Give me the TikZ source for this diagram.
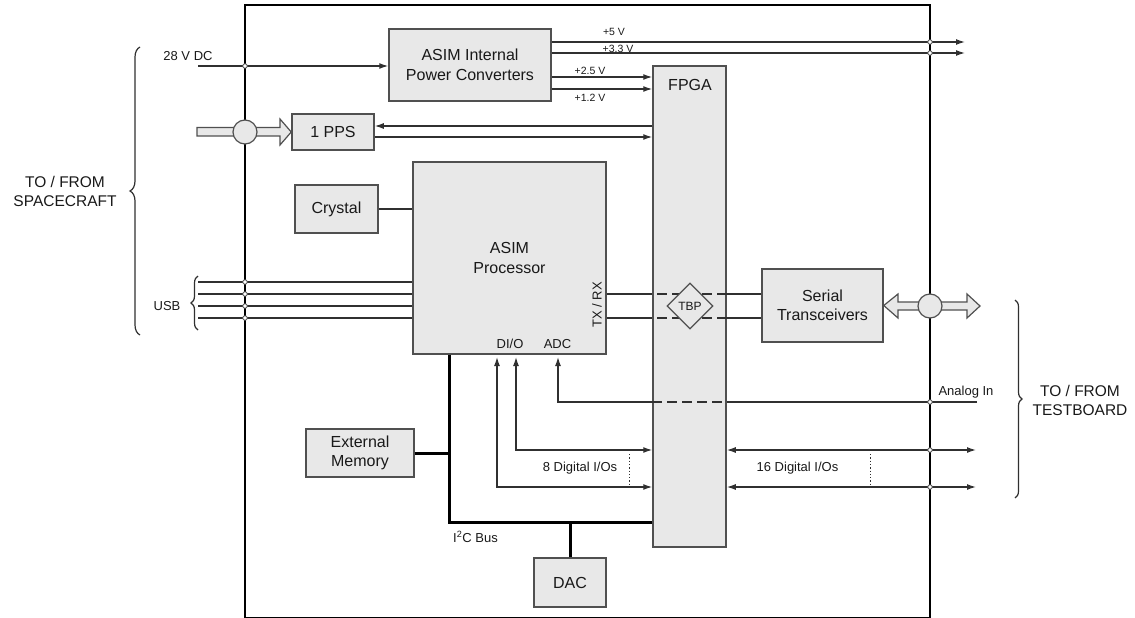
\documentclass[tikz,border=0pt]{standalone}
\usepackage{fontspec}
\setmainfont{Liberation Sans}
\usetikzlibrary{arrows.meta,shapes.geometric,decorations.pathreplacing}
\definecolor{boxfill}{HTML}{E8E8E8}
\definecolor{boxline}{HTML}{505050}
\definecolor{wirec}{HTML}{303030}
\tikzset{
  txt/.style={font=\fontsize{16}{19.5}\selectfont, align=center, inner sep=0pt, text=black!90},
  blk/.style={txt, draw=boxline, fill=boxfill, line width=1.5pt},
  sig/.style={draw=wirec, line width=1.3pt},
  bus/.style={draw=black, line width=3pt},
  jdot/.style={circle, draw=boxline, fill=white, line width=0.8pt, inner sep=0pt, minimum size=4.5pt},
  lbl/.style={font=\fontsize{13}{15}\selectfont, inner sep=0pt, text=black!90},
  vlbl/.style={font=\fontsize{10.5}{12}\selectfont, inner sep=0pt, text=black!90},
  fat/.style={draw=boxline, fill=boxfill, line width=1.2pt, line join=miter},
  brc/.style={draw=wirec, line width=1.2pt, decorate, decoration={brace, amplitude=#1}},
  fpgadash/.style={sig, dash pattern=on 10pt off 5pt, dash phase=10pt}
}
\begin{document}
\begin{tikzpicture}[x=1pt, y=-1pt, >={Latex[length=9pt,width=6pt]}]
\useasboundingbox (0,0) rectangle (1135,618);
\draw[line width=1.8pt] (245,5) rectangle (930,618);

\node[blk, minimum width=162pt, minimum height=72pt] (pwr) at (470,65) {ASIM Internal\\Power Converters};
\node[blk, minimum width=73pt, minimum height=481pt] (fpga) at (689.5,306.5) {};
\node[txt] (fpgalbl) at (690,85) {FPGA};
\node[blk, minimum width=82pt, minimum height=36pt] (pps) at (333,132) {1 PPS};
\node[blk, minimum width=83pt, minimum height=48pt] (xtal) at (336.5,209) {Crystal};
\node[blk, minimum width=193pt, minimum height=192pt] (proc) at (509.5,258) {ASIM\\Processor};
\node[blk, minimum width=121pt, minimum height=73pt] (ser) at (822.5,305.5) {Serial\\Transceivers};
\node[blk, minimum width=108pt, minimum height=48pt] (mem) at (360,453) {External\\Memory};
\node[blk, minimum width=72pt, minimum height=49pt] (dac) at (570,582.5) {DAC};

\coordinate (dcin) at (198,66);
\draw[sig,->] (dcin) -- (dcin -| pwr.west);
\node[jdot] (dcj) at (245,66) {};
\node[lbl] (dclbl) at (188,56) {28 V DC};
\foreach \y/\txt/\lx/\ly in {42/{+5 V}/614/32, 53/{+3.3 V}/618/48.5}{
  \coordinate (pout\y) at (965,\y);
  \draw[sig,->] (pwr.east |- pout\y) -- (pout\y);
  \node[vlbl] (pl\y) at (\lx,\ly) {\txt};
  \node[jdot] (pj\y) at (930,\y) {};
}
\foreach \y/\txt/\ly in {77/{+2.5 V}/71, 89/{+1.2 V}/98}{
  \draw[sig,->] (pwr.east |- 0,\y) -- (fpga.west |- 0,\y);
  \node[vlbl] (pl\y) at (590,\ly) {\txt};
}

\draw[sig,->] (fpga.west |- 0,126) -- (pps.east |- 0,126);
\draw[sig,->] (pps.east |- 0,137) -- (fpga.west |- 0,137);
\draw[fat] (197,127.5) -- (280,127.5) -- (280,119) -- (pps.west) -- (280,145) -- (280,136) -- (197,136) -- cycle;
\node[fat, circle, minimum size=24pt, inner sep=0pt] (ppsport) at (245,132) {};

\draw[sig] (xtal) -- (xtal -| proc.west);

\foreach \y in {282,294,306,318}{
  \coordinate (usb\y) at (198,\y);
  \draw[sig] (usb\y) -- (usb\y -| proc.west);
  \node[jdot] (uj\y) at (245,\y) {};
}

\foreach \y in {294,318}{
  \draw[sig] (proc.east |- 0,\y) -- (fpga.west |- 0,\y);
  \draw[fpgadash] (fpga.west |- 0,\y) -- (fpga.east |- 0,\y);
  \draw[sig] (fpga.east |- 0,\y) -- (ser.west |- 0,\y);
}
\node[blk, diamond, minimum width=46pt, minimum height=46pt, line width=1.2pt, font=\fontsize{12}{14}\selectfont] (tbp) at (690,306) {TBP};

\draw[fat] (ser.east) -- (898,294) -- (898,302) -- (967,302) -- (967,294) -- (980,306) -- (967,318) -- (967,310) -- (898,310) -- (898,318) -- cycle;
\node[fat, circle, minimum size=24pt, inner sep=0pt] (serport) at (930,306) {};

\coordinate (ain) at (977,402);
\coordinate (adcin) at (558,357);
\draw[sig] (ain) -- (fpga.east |- ain);
\draw[fpgadash] (fpga.east |- ain) -- (fpga.west |- ain);
\draw[sig,->] (fpga.west |- ain) -| (adcin);
\node[jdot] (aj) at (930,402) {};
\node[lbl] (ainlbl) at (966,392) {Analog In};

\draw[sig,<->] (516,357) |- (fpga.west |- 0,450);
\draw[sig,<->] (497,357) |- (fpga.west |- 0,487);
\foreach \y in {450,487}{
  \draw[sig,<->] (fpga.east |- 0,\y) -- (976,\y);
  \node[jdot] (dj\y) at (930,\y) {};
}
\draw[sig, dotted, line width=1pt] (629,454) -- (629,487);
\draw[sig, dotted, line width=1pt] (870,454) -- (870,487);
\node[lbl] (dio8) at (580,468) {8 Digital I/Os};
\node[lbl] (dio16) at (797.5,468) {16 Digital I/Os};

\draw[bus] (proc.south -| 449,0) |- (fpga.west |- 0,522);
\draw[bus] (mem.east) -- (mem.east -| 449,0);
\draw[bus] (dac.north) -- (dac.north |- 0,522);
\node[lbl, anchor=west] (i2c) at (453,537) {I\textsuperscript{2}C Bus};

\node[lbl] (dio) at (510,344) {DI/O};
\node[lbl] (adc) at (557.5,344) {ADC};
\node[lbl, rotate=90] (txrx) at (597,305) {TX / RX};

\draw[brc=10] (140,335) -- (140,47);
\node[txt, font=\fontsize{15.5}{19}\selectfont] (scft) at (65,191) {TO / FROM\\SPACECRAFT};
\draw[brc=7] (198,330) -- (198,276);
\node[lbl] (usblbl) at (167,306) {USB};
\draw[brc=7] (1015,300) -- (1015,498);
\node[txt, font=\fontsize{15.5}{19}\selectfont] (tbrd) at (1080,400) {TO / FROM\\TESTBOARD};
\end{tikzpicture}
\end{document}
